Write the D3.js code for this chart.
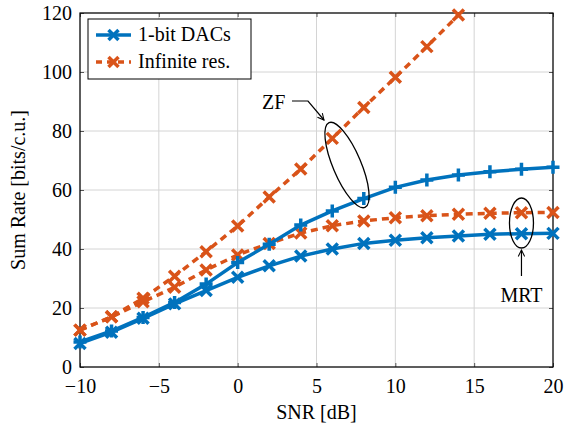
<!DOCTYPE html>
<html>
<head>
<meta charset="utf-8">
<script src="https://cdn.jsdelivr.net/npm/d3@7"></script>
<style>
  body { margin: 0; background: #fff; }
  svg text { font-family: "Liberation Serif", "DejaVu Serif", serif; fill: #000; }
</style>
</head>
<body>
<div id="chart"></div>
<script>
// SNR sweep and the four sum-rate curves
var snr = [-10, -8, -6, -4, -2, 0, 2, 4, 6, 8, 10, 12, 14, 16, 18, 20];
var zf1bit = [8.5, 12.2, 16.8, 21.9, 28.1, 35.4, 41.6, 48.1, 52.9, 57.1, 60.9, 63.4, 65.1, 66.2, 67.0, 67.7];
var mrt1bit = [8.0, 11.8, 16.5, 21.4, 25.9, 30.4, 34.3, 37.6, 40.0, 41.9, 43.0, 43.8, 44.4, 45.0, 45.2, 45.3];
var zfInf = [12.5, 17.0, 23.3, 30.8, 39.1, 47.8, 57.6, 67.1, 77.5, 88.0, 98.2, 108.6, 119.3];
var mrtInf = [12.5, 17.0, 22.1, 27.0, 32.9, 38.0, 41.9, 45.4, 47.9, 49.5, 50.6, 51.3, 51.8, 52.1, 52.3, 52.4];
var xTicks = [-10, -5, 0, 5, 10, 15, 20];
var yTicks = [0, 20, 40, 60, 80, 100, 120];
var legendLabels = ["1-bit DACs", "Infinite res."];

var blue = "#0072BD", orange = "#D95319";
var W = 571, H = 433;
var pLeft = 80, pRight = 553, pTop = 13, pBottom = 367;
var fs = "20px";

var svg = d3.select("#chart").append("svg")
    .attr("width", W)
    .attr("height", H);

var x = d3.scaleLinear().domain([-10, 20]).range([pLeft, pRight]);
var y = d3.scaleLinear().domain([0, 120]).range([pBottom, pTop]);

// clip so the curves stay inside the frame (markers may poke out a little)
svg.append("clipPath").attr("id", "plotclip")
  .append("rect")
    .attr("x", pLeft - 8).attr("y", pTop - 8)
    .attr("width", pRight - pLeft + 16).attr("height", pBottom - pTop + 16);

// grid
svg.append("g").selectAll("line").data(xTicks).enter().append("line")
    .attr("x1", d => x(d)).attr("x2", d => x(d))
    .attr("y1", pTop).attr("y2", pBottom)
    .style("stroke", "#d4d4d4").style("stroke-width", 1);
svg.append("g").selectAll("line").data(yTicks).enter().append("line")
    .attr("x1", pLeft).attr("x2", pRight)
    .attr("y1", d => y(d)).attr("y2", d => y(d))
    .style("stroke", "#d4d4d4").style("stroke-width", 1);

// axes (ticks pointing in, on all sides)
var fmt = d => (d < 0 ? "\u2212" + Math.abs(d) : "" + d);
svg.append("g").attr("transform", "translate(0," + pBottom + ")")
    .call(d3.axisBottom(x).tickValues(xTicks).tickSizeInner(-4).tickSizeOuter(0).tickPadding(12).tickFormat(fmt));
svg.append("g").attr("transform", "translate(" + pLeft + ",0)")
    .call(d3.axisLeft(y).tickValues(yTicks).tickSizeInner(-4).tickSizeOuter(0).tickPadding(8).tickFormat(fmt));
svg.append("g").attr("transform", "translate(0," + pTop + ")")
    .call(d3.axisTop(x).tickValues(xTicks).tickSizeInner(-4).tickSizeOuter(0).tickFormat(""));
svg.append("g").attr("transform", "translate(" + pRight + ",0)")
    .call(d3.axisRight(y).tickValues(yTicks).tickSizeInner(-4).tickSizeOuter(0).tickFormat(""));
svg.selectAll(".domain").remove();
svg.selectAll(".tick text").style("font-size", fs).style("font-family", "Liberation Serif, serif");
svg.selectAll(".tick line").style("stroke", "#555");

svg.append("rect")
    .attr("x", pLeft).attr("y", pTop)
    .attr("width", pRight - pLeft).attr("height", pBottom - pTop)
    .style("fill", "none").style("stroke", "#000").style("stroke-width", 1.2);

// series
function curve(vals, color, dashed, marker) {
  var pts = vals.map((v, i) => [snr[i], v]);
  var g = svg.append("g").attr("clip-path", "url(#plotclip)");
  g.append("path")
    .datum(pts)
    .attr("d", d3.line().x(d => x(d[0])).y(d => y(d[1])))
    .style("fill", "none")
    .style("stroke", color)
    .style("stroke-width", 3.5)
    .style("stroke-dasharray", dashed ? "7,5" : null);
  var s = 5.5;
  g.selectAll("path.m").data(pts).enter().append("path")
    .attr("class", "m")
    .attr("d", d => {
      var cx = x(d[0]), cy = y(d[1]);
      if (marker == "plus")
        return "M" + (cx - s - 1) + "," + cy + "H" + (cx + s + 1) + "M" + cx + "," + (cy - s - 1) + "V" + (cy + s + 1);
      return "M" + (cx - s) + "," + (cy - s) + "L" + (cx + s) + "," + (cy + s) +
             "M" + (cx - s) + "," + (cy + s) + "L" + (cx + s) + "," + (cy - s);
    })
    .style("stroke", color)
    .style("stroke-width", 3.5)
    .style("fill", "none");
}
curve(mrtInf, orange, true, "x");
curve(zfInf, orange, true, "x");
curve(mrt1bit, blue, false, "x");
curve(zf1bit, blue, false, "plus");

// annotations: ZF
svg.append("text").attr("x", 262).attr("y", 109).text("ZF").style("font-size", fs);
svg.append("defs").append("marker")
    .attr("id", "arrow").attr("viewBox", "0 0 10 10")
    .attr("refX", 9).attr("refY", 5)
    .attr("markerWidth", 8).attr("markerHeight", 8)
    .attr("markerUnits", "userSpaceOnUse")
    .attr("orient", "auto")
  .append("path")
    .attr("d", "M1,1 L9,5 L1,9")
    .style("fill", "none").style("stroke", "#000").style("stroke-width", 1.3);
svg.append("path")
    .attr("d", "M292,101 H308 L324,120")
    .style("fill", "none").style("stroke", "#000").style("stroke-width", 1.2)
    .attr("marker-end", "url(#arrow)");
svg.append("ellipse")
    .attr("cx", 347).attr("cy", 165).attr("rx", 14).attr("ry", 46)
    .attr("transform", "rotate(-23,347,165)")
    .style("fill", "none").style("stroke", "#000").style("stroke-width", 1.3);

// annotations: MRT
svg.append("ellipse")
    .attr("cx", x(18)).attr("cy", 223).attr("rx", 12).attr("ry", 25)
    .style("fill", "none").style("stroke", "#000").style("stroke-width", 1.3);
svg.append("line")
    .attr("x1", x(18)).attr("x2", x(18)).attr("y1", 276).attr("y2", 250)
    .style("stroke", "#000").style("stroke-width", 1.2)
    .attr("marker-end", "url(#arrow)");
svg.append("text").attr("x", x(18)).attr("y", 302).attr("text-anchor", "middle")
    .text("MRT").style("font-size", fs);

// axis titles
svg.append("text").attr("x", (pLeft + pRight) / 2).attr("y", 419).attr("text-anchor", "middle")
    .text("SNR [dB]").style("font-size", fs);
svg.append("text")
    .attr("transform", "translate(25," + (pTop + pBottom) / 2 + ") rotate(-90)")
    .attr("text-anchor", "middle")
    .text("Sum Rate [bits/c.u.]").style("font-size", fs);

// legend
var lg = svg.append("g");
lg.append("rect").attr("x", 88).attr("y", 19).attr("width", 163).attr("height", 60)
    .style("fill", "#fff").style("stroke", "#000").style("stroke-width", 1);
[blue, orange].forEach(function(c, i) {
  var ly = 35 + i * 27;
  lg.append("line").attr("x1", 96).attr("x2", 131).attr("y1", ly).attr("y2", ly)
    .style("stroke", c).style("stroke-width", 3.5)
    .style("stroke-dasharray", i == 1 ? "6,5" : null);
  var s = 5;
  lg.append("path")
    .attr("d", "M" + (113.5 - s) + "," + (ly - s) + "L" + (113.5 + s) + "," + (ly + s) +
               "M" + (113.5 - s) + "," + (ly + s) + "L" + (113.5 + s) + "," + (ly - s))
    .style("stroke", c).style("stroke-width", 3.5);
  lg.append("text").attr("x", 138).attr("y", ly + 6).text(legendLabels[i]).style("font-size", fs);
});
</script>
</body>
</html>
